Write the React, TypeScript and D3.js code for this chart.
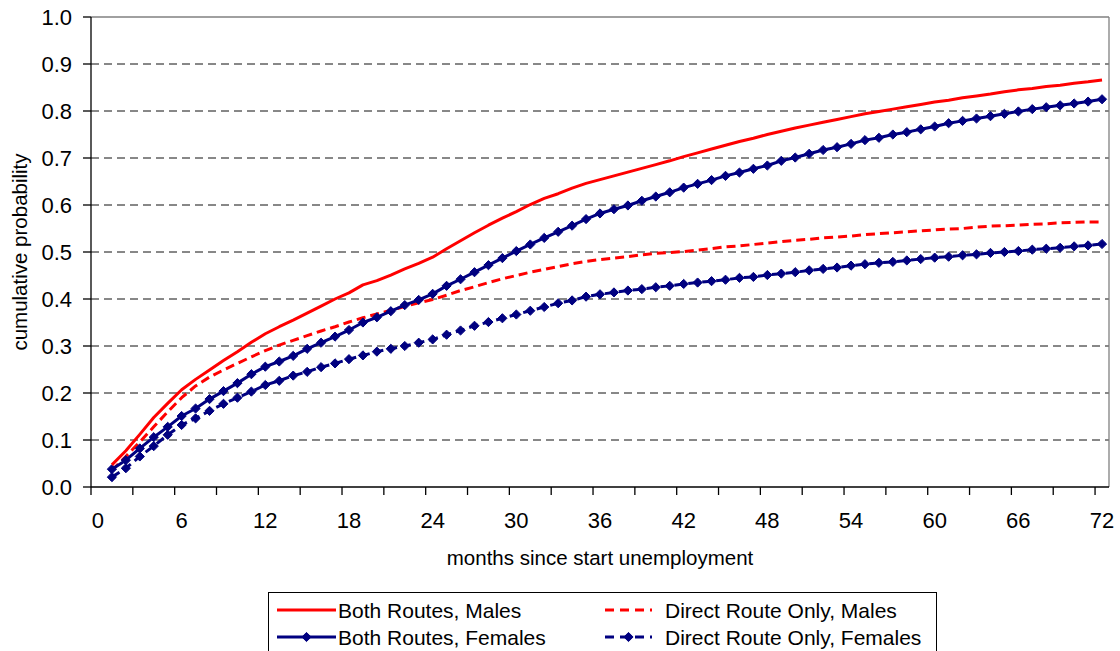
import React from "react";
import * as d3 from "d3";

const months: number[] = d3.range(0, 73);
const dataMonths: number[] = d3.range(1, 73);

const bothMales: number[] = [
  0.047, 0.077, 0.112, 0.148, 0.178, 0.207, 0.229, 0.249, 0.269, 0.288,
  0.308, 0.326, 0.341, 0.355, 0.370, 0.385, 0.400, 0.413, 0.430, 0.439,
  0.451, 0.464, 0.476, 0.489, 0.507, 0.524, 0.541, 0.557, 0.572, 0.586,
  0.601, 0.614, 0.624, 0.636, 0.646, 0.654, 0.662, 0.670, 0.678, 0.686,
  0.694, 0.703, 0.711, 0.719, 0.727, 0.735, 0.742, 0.750, 0.757, 0.764,
  0.770, 0.776, 0.782, 0.788, 0.794, 0.799, 0.804, 0.809, 0.814, 0.819,
  0.823, 0.828, 0.832, 0.836, 0.841, 0.845, 0.848, 0.852, 0.855, 0.859,
  0.862, 0.866,
];

const bothFemales: number[] = [
  0.038, 0.057, 0.082, 0.106, 0.128, 0.151, 0.167, 0.187, 0.204, 0.221,
  0.240, 0.256, 0.267, 0.279, 0.294, 0.307, 0.320, 0.334, 0.350, 0.361,
  0.374, 0.387, 0.398, 0.411, 0.428, 0.442, 0.457, 0.472, 0.487, 0.502,
  0.516, 0.530, 0.543, 0.556, 0.570, 0.582, 0.591, 0.599, 0.609, 0.618,
  0.627, 0.637, 0.645, 0.653, 0.662, 0.669, 0.677, 0.684, 0.694, 0.701,
  0.709, 0.717, 0.723, 0.730, 0.738, 0.743, 0.750, 0.755, 0.761, 0.767,
  0.774, 0.779, 0.784, 0.789, 0.794, 0.799, 0.804, 0.808, 0.812, 0.816,
  0.820, 0.825,
];

const directMales: number[] = [
  0.035, 0.065, 0.096, 0.128, 0.160, 0.190, 0.215, 0.234, 0.249, 0.263,
  0.277, 0.290, 0.302, 0.312, 0.322, 0.332, 0.341, 0.351, 0.360, 0.368,
  0.376, 0.384, 0.392, 0.399, 0.408, 0.418, 0.426, 0.435, 0.443, 0.450,
  0.457, 0.463, 0.469, 0.475, 0.480, 0.484, 0.487, 0.490, 0.494, 0.497,
  0.499, 0.501, 0.504, 0.507, 0.511, 0.513, 0.516, 0.519, 0.522, 0.525,
  0.527, 0.530, 0.532, 0.534, 0.537, 0.539, 0.541, 0.543, 0.545, 0.547,
  0.549, 0.550, 0.553, 0.555, 0.556, 0.557, 0.559, 0.560, 0.562, 0.563,
  0.564, 0.564,
];

const directFemales: number[] = [
  0.021, 0.040, 0.065, 0.087, 0.111, 0.132, 0.146, 0.162, 0.177, 0.190,
  0.203, 0.217, 0.226, 0.237, 0.245, 0.255, 0.263, 0.272, 0.280, 0.288,
  0.294, 0.300, 0.307, 0.314, 0.324, 0.333, 0.343, 0.351, 0.359, 0.367,
  0.375, 0.383, 0.391, 0.397, 0.405, 0.410, 0.414, 0.418, 0.421, 0.425,
  0.428, 0.432, 0.435, 0.438, 0.441, 0.445, 0.447, 0.451, 0.454, 0.457,
  0.461, 0.464, 0.467, 0.471, 0.474, 0.477, 0.479, 0.482, 0.485, 0.488,
  0.490, 0.493, 0.495, 0.498, 0.500, 0.502, 0.505, 0.507, 0.509, 0.512,
  0.514, 0.517,
];

const yTicks: number[] = [0, 0.1, 0.2, 0.3, 0.4, 0.5, 0.6, 0.7, 0.8, 0.9, 1.0];
const xLabelMonths: number[] = [0, 6, 12, 18, 24, 30, 36, 42, 48, 54, 60, 66, 72];
const xTickMonths: number[] = d3.range(0, 73, 3);

const legendLabels: string[] = [
  "Both Routes, Males",
  "Direct Route Only, Males",
  "Both Routes, Females",
  "Direct Route Only, Females",
];

const RED = "#FF0000";
const NAVY = "#000080";
const FONT = "'Liberation Sans', Arial, Helvetica, sans-serif";

const W = 1120;
const H = 651;
const L = 91;
const R = 1109;
const T = 17;
const B = 487;

const x = d3.scaleBand<number>().domain(months).range([L, R]).padding(0);
const bw = x.bandwidth();
const cx = (m: number) => (x(m) as number) + bw / 2;
const y = d3.scaleLinear().domain([0, 1]).range([B, T]);

const lineGen = d3
  .line<number>()
  .x((_, i) => cx(dataMonths[i]))
  .y((d) => y(d));

const diamond = (px: number, py: number, r = 4.6) =>
  `M${px},${py - r}L${px + r},${py}L${px},${py + r}L${px - r},${py}Z`;

export default function App() {
  const series = [
    { vals: directFemales, color: NAVY, dash: "9,5", markers: true },
    { vals: directMales, color: RED, dash: "9,5", markers: false },
    { vals: bothFemales, color: NAVY, dash: undefined, markers: true },
    { vals: bothMales, color: RED, dash: undefined, markers: false },
  ];

  const legX = [277, 605];
  const legY = [610, 637];
  const legItems = [
    { col: 0, row: 0, color: RED, dash: undefined, marker: false },
    { col: 1, row: 0, color: RED, dash: "9,6", marker: false },
    { col: 0, row: 1, color: NAVY, dash: undefined, marker: true },
    { col: 1, row: 1, color: NAVY, dash: "9,6", marker: true },
  ];

  return (
    <svg
      width={W}
      height={H}
      style={{ position: "absolute", left: 0, top: 0, background: "#fff" }}
      fontFamily={FONT}
    >
      <rect x={0} y={0} width={W} height={H} fill="#fff" />
      {yTicks
        .filter((t) => t > 0 && t < 1)
        .map((t) => (
          <line
            key={"g" + t}
            x1={L}
            x2={R}
            y1={y(t)}
            y2={y(t)}
            stroke="#111"
            strokeWidth={1}
            strokeDasharray="8,5"
          />
        ))}
      <line x1={L} x2={R} y1={y(1)} y2={y(1)} stroke="#808080" strokeWidth={1.3} />
      <line x1={R} x2={R} y1={T} y2={B} stroke="#808080" strokeWidth={1.3} />

      {series.map((s, si) => (
        <g key={"s" + si}>
          <path
            d={lineGen(s.vals) || ""}
            fill="none"
            stroke={s.color}
            strokeWidth={3}
            strokeDasharray={s.dash}
            strokeLinejoin="round"
          />
          {s.markers &&
            s.vals.map((v, i) => (
              <path key={i} d={diamond(cx(dataMonths[i]), y(v))} fill={s.color} stroke={s.color} strokeWidth={1} />
            ))}
        </g>
      ))}

      <line x1={L} x2={L} y1={T} y2={B} stroke="#000" strokeWidth={1.3} />
      <line x1={L} x2={R} y1={B} y2={B} stroke="#000" strokeWidth={1.3} />
      {yTicks.map((t) => (
        <g key={"yt" + t}>
          <line x1={L - 8} x2={L} y1={y(t)} y2={y(t)} stroke="#000" strokeWidth={1.3} />
          <text x={L - 19} y={y(t)} dy="0.36em" textAnchor="end" fontSize={22} fill="#000">
            {d3.format(".1f")(t)}
          </text>
        </g>
      ))}
      {xTickMonths.map((m) => (
        <line key={"xt" + m} x1={x(m) as number} x2={x(m) as number} y1={B} y2={B + 8} stroke="#000" strokeWidth={1.3} />
      ))}
      {xLabelMonths.map((m) => (
        <text key={"xl" + m} x={cx(m)} y={520} dy="0.36em" textAnchor="middle" fontSize={22} fill="#000">
          {m}
        </text>
      ))}
      <text x={(L + R) / 2} y={558} dy="0.36em" textAnchor="middle" fontSize={20.5} fill="#000">
        months since start unemployment
      </text>
      <text
        transform={`translate(20,${(T + B) / 2}) rotate(-90)`}
        textAnchor="middle"
        dy="0.36em"
        fontSize={20.5}
        fill="#000"
      >
        cumulative probability
      </text>

      <rect x={268.5} y={592.5} width={668} height={80} fill="#fff" stroke="#000" strokeWidth={1} />
      {legItems.map((it, i) => {
        const x0 = legX[it.col];
        const yy = legY[it.row];
        const len = it.col === 0 ? 59 : 47;
        return (
          <g key={"lg" + i}>
            <line x1={x0} x2={x0 + len} y1={yy} y2={yy} stroke={it.color} strokeWidth={3} strokeDasharray={it.dash} />
            {it.marker && <path d={diamond(x0 + len / 2, yy)} fill={it.color} stroke={it.color} />}
            <text x={it.col === 0 ? 338 : 665} y={yy} dy="0.36em" fontSize={21} fill="#000">
              {legendLabels[i]}
            </text>
          </g>
        );
      })}
    </svg>
  );
}
